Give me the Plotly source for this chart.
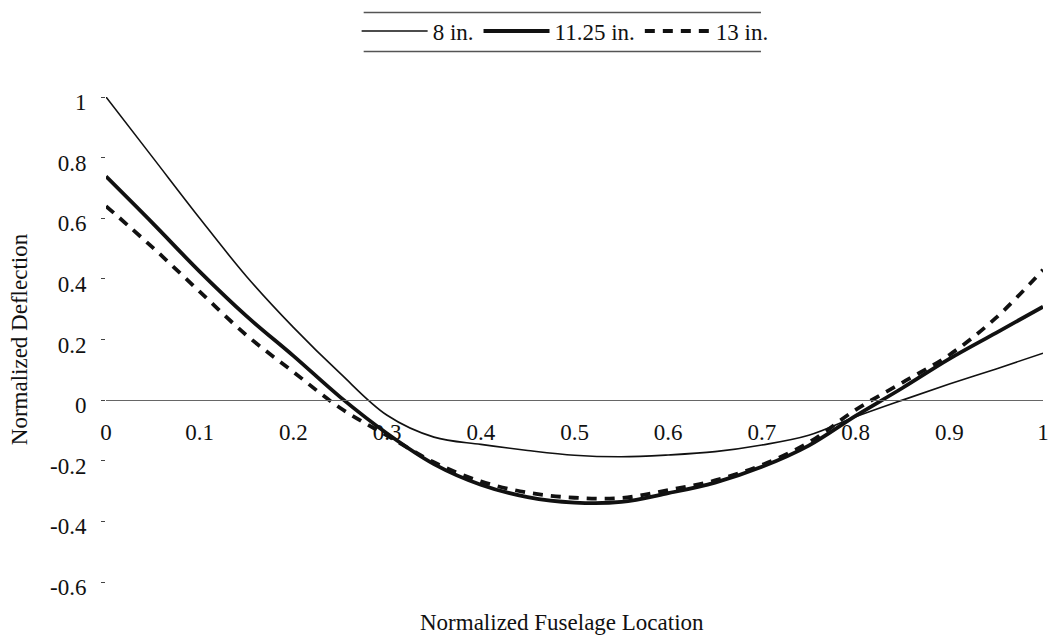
import plotly.graph_objects as go

# Normalized fuselage location (shared by all three cases)
location = [0.00, 0.05, 0.10, 0.15, 0.20, 0.25, 0.30, 0.35, 0.40, 0.45, 0.50,
            0.55, 0.60, 0.65, 0.70, 0.75, 0.80, 0.85, 0.90, 0.95, 1.00]

# Normalized deflection for each thickness
defl_8in = [1.000, 0.800, 0.600, 0.408, 0.240, 0.088, -0.050, -0.122, -0.146, -0.166, -0.182,
            -0.187, -0.181, -0.170, -0.148, -0.116, -0.055, 0.000, 0.053, 0.103, 0.155]
defl_1125in = [0.738, 0.583, 0.424, 0.277, 0.146, 0.010, -0.110, -0.211, -0.279, -0.320, -0.338,
               -0.336, -0.307, -0.272, -0.220, -0.150, -0.052, 0.040, 0.136, 0.222, 0.308]
defl_13in = [0.640, 0.503, 0.358, 0.214, 0.093, -0.026, -0.117, -0.205, -0.268, -0.305, -0.322,
             -0.323, -0.297, -0.265, -0.214, -0.140, -0.032, 0.058, 0.149, 0.272, 0.430]

series_names = ["8 in.", "11.25 in.", "13 in."]
y_ticks = [1, 0.8, 0.6, 0.4, 0.2, 0, -0.2, -0.4, -0.6]
y_tick_text = ["1", "0.8", "0.6", "0.4", "0.2", "0", "-0.2", "-0.4", "-0.6"]
x_ticks = [0, 0.1, 0.2, 0.3, 0.4, 0.5, 0.6, 0.7, 0.8, 0.9, 1]
x_tick_text = ["0", "0.1", "0.2", "0.3", "0.4", "0.5", "0.6", "0.7", "0.8", "0.9", "1"]

FONT = "Liberation Serif"
INK = "#111111"
Y_MIN, Y_MAX = -0.6, 1.0

fig = go.Figure()
fig.add_trace(go.Scatter(x=location, y=defl_8in, name=series_names[0], mode="lines",
                         line=dict(color=INK, width=1.6, shape="spline", smoothing=1.0)))
fig.add_trace(go.Scatter(x=location, y=defl_1125in, name=series_names[1], mode="lines",
                         line=dict(color=INK, width=3.8, shape="spline", smoothing=1.0)))
fig.add_trace(go.Scatter(x=location, y=defl_13in, name=series_names[2], mode="lines",
                         line=dict(color=INK, width=3.8, dash="10px,8px",
                                   shape="spline", smoothing=1.0)))

zero_pos = (0 - Y_MIN) / (Y_MAX - Y_MIN)

fig.update_layout(
    width=1058, height=642,
    margin=dict(l=106, r=9, t=94, b=60),
    paper_bgcolor="white", plot_bgcolor="white",
    font=dict(family=FONT, size=23, color=INK),
    showlegend=True,
    legend=dict(orientation="h", x=0.49, y=1.136, xanchor="center", yanchor="middle",
                font=dict(family=FONT, size=23, color=INK), itemwidth=66,
                bgcolor="rgba(0,0,0,0)", borderwidth=0, tracegroupgap=0),
    xaxis=dict(range=[0, 1], showgrid=False, zeroline=False, showline=False,
               showticklabels=False, ticks=""),
    xaxis2=dict(range=[0, 1], overlaying="x", anchor="free", position=zero_pos, side="bottom",
                showgrid=False, zeroline=False, showline=True, linecolor="#666666", linewidth=1,
                ticks="", tickmode="array", tickvals=x_ticks, ticktext=x_tick_text,
                ticklabelstandoff=11, tickfont=dict(family=FONT, size=23, color=INK)),
    yaxis=dict(range=[Y_MIN, Y_MAX], showgrid=False, zeroline=False, showline=False,
               ticks="outside", ticklen=4, tickwidth=1, tickcolor="#444444",
               tickmode="array", tickvals=y_ticks, ticktext=y_tick_text,
               ticklabelstandoff=10, ticklabelshift=5,
               tickfont=dict(family=FONT, size=23, color=INK),
               title=dict(text="Normalized Deflection",
                          font=dict(family=FONT, size=23, color=INK))),
)

# Invisible helper trace so the zero-level axis is drawn
fig.add_trace(go.Scatter(x=[0, 1], y=[0, 0], xaxis="x2", mode="lines",
                         line=dict(width=0), hoverinfo="skip", showlegend=False))

# Horizontal-axis title, set well below the plotting area
fig.add_annotation(text="Normalized Fuselage Location", xref="paper", yref="paper",
                   x=0.487, y=-0.084, xanchor="center", yanchor="middle", showarrow=False,
                   font=dict(family=FONT, size=23, color=INK))

# Rules above and below the legend
for y_rule in (1.174, 1.094):
    fig.add_shape(type="line", xref="paper", yref="paper", x0=0.275, x1=0.699,
                  y0=y_rule, y1=y_rule, line=dict(color="#555555", width=1.5))

fig.write_html("out.html")
